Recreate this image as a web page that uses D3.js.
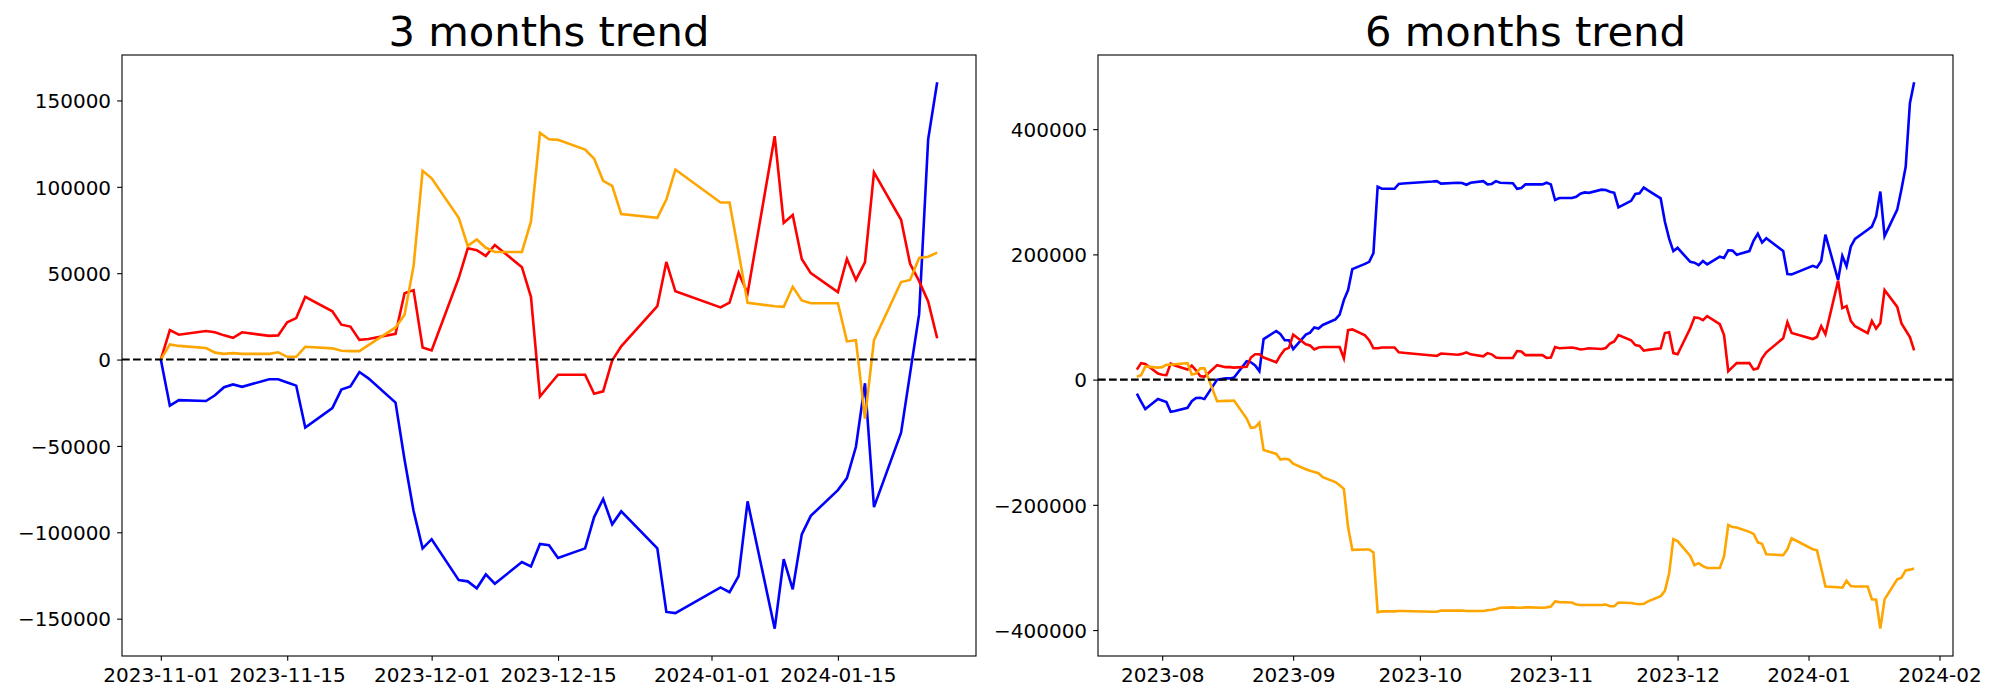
<!DOCTYPE html>
<html>
<head>
<meta charset="utf-8">
<script src="https://cdn.jsdelivr.net/npm/d3@7"></script>
<style>
  html, body { margin: 0; padding: 0; background: #fff; }
  svg { display: block; font-family: "DejaVu Sans", sans-serif; }
</style>
</head>
<body>
<svg id="chart" width="2000" height="700"></svg>
<script>
// ---------------- data ----------------
const dates3 = [
  "2023-11-01","2023-11-02","2023-11-03","2023-11-06","2023-11-07","2023-11-08","2023-11-09","2023-11-10",
  "2023-11-13","2023-11-14","2023-11-15","2023-11-16","2023-11-17","2023-11-20","2023-11-21","2023-11-22",
  "2023-11-23","2023-11-24","2023-11-27","2023-11-28","2023-11-29","2023-11-30",
  "2023-12-01","2023-12-04","2023-12-05","2023-12-06","2023-12-07","2023-12-08","2023-12-11","2023-12-12",
  "2023-12-13","2023-12-14","2023-12-15","2023-12-18","2023-12-19","2023-12-20","2023-12-21","2023-12-22",
  "2023-12-26","2023-12-27","2023-12-28",
  "2024-01-02","2024-01-03","2024-01-04","2024-01-05","2024-01-08","2024-01-09","2024-01-10","2024-01-11",
  "2024-01-12","2024-01-15","2024-01-16","2024-01-17","2024-01-18","2024-01-19","2024-01-22","2024-01-23",
  "2024-01-24","2024-01-25","2024-01-26"
];
const blue3 = [
  0,-26700,-23500,-24000,-20700,-16000,-14400,-15800,-11400,-11400,-13300,-15100,-39300,-28100,-17400,-15600,
  -7200,-10900,-24900,-58000,-87700,-109300,
  -104000,-127700,-128400,-132400,-124400,-129800,-117200,-119800,-106800,-107500,-114900,-109300,-91200,-80700,
  -95400,-87900,-109300,-146100,-146800,
  -131900,-134700,-125400,-82100,-155800,-115600,-133000,-101200,-90500,-75600,-68600,-50500,-13700,-85400,
  -42300,-8000,26300,127500,160500
];
const red3 = [
  0,17000,14400,16500,15800,14000,12600,15800,13700,14000,21600,24000,36300,27900,20200,19100,
  11400,11900,14900,38400,40200,7000,
  5300,47200,64400,63300,60000,66300,53500,36300,-21400,-15000,-8800,-8800,-19800,-18400,
  -500,7700,30900,56500,39500,
  30200,33000,50200,38400,129300,79100,83700,58200,50000,39100,58200,46100,56300,108400,
  80900,55400,45400,33700,12300
];
const orange3 = [
  0,8800,7900,6700,4000,3300,3700,3300,3300,4200,1600,1600,7400,6500,5100,4900,
  4900,8400,18600,26000,54200,109300,
  104900,82100,65800,69500,64700,62300,62300,79800,131200,127500,127200,121600,116300,103500,
  100500,84200,82100,92600,110000,
  90900,90900,62000,32800,30900,30500,42100,34200,32600,32600,10500,11200,-34200,11200,
  44900,46100,58800,59500,61900
];

const dates6 = [
  "2023-07-26","2023-07-27","2023-07-28","2023-07-31",
  "2023-08-01","2023-08-02","2023-08-03","2023-08-04","2023-08-07","2023-08-08","2023-08-09","2023-08-10",
  "2023-08-11","2023-08-14","2023-08-16","2023-08-17","2023-08-18","2023-08-21","2023-08-22","2023-08-23",
  "2023-08-24","2023-08-25","2023-08-28","2023-08-29","2023-08-30","2023-08-31",
  "2023-09-01","2023-09-04","2023-09-05","2023-09-06","2023-09-07","2023-09-08","2023-09-11","2023-09-12",
  "2023-09-13","2023-09-14","2023-09-15","2023-09-18","2023-09-19","2023-09-20","2023-09-21","2023-09-22",
  "2023-09-25","2023-09-26","2023-09-27",
  "2023-10-04","2023-10-05","2023-10-06","2023-10-10","2023-10-11","2023-10-12","2023-10-13","2023-10-16",
  "2023-10-17","2023-10-18","2023-10-19","2023-10-20","2023-10-23","2023-10-24","2023-10-25","2023-10-26",
  "2023-10-27","2023-10-30","2023-10-31",
  "2023-11-01","2023-11-02","2023-11-03","2023-11-06","2023-11-07","2023-11-08","2023-11-09","2023-11-10",
  "2023-11-13","2023-11-14","2023-11-15","2023-11-16","2023-11-17","2023-11-20","2023-11-21","2023-11-22",
  "2023-11-23","2023-11-24","2023-11-27","2023-11-28","2023-11-29","2023-11-30",
  "2023-12-01","2023-12-04","2023-12-05","2023-12-06","2023-12-07","2023-12-08","2023-12-11","2023-12-12",
  "2023-12-13","2023-12-14","2023-12-15","2023-12-18","2023-12-19","2023-12-20","2023-12-21","2023-12-22",
  "2023-12-26","2023-12-27","2023-12-28",
  "2024-01-02","2024-01-03","2024-01-04","2024-01-05","2024-01-08","2024-01-09","2024-01-10","2024-01-11",
  "2024-01-12","2024-01-15","2024-01-16","2024-01-17","2024-01-18","2024-01-19","2024-01-22","2024-01-23",
  "2024-01-24","2024-01-25","2024-01-26"
];
const blue6 = [
  -22500,-35000,-47000,-31000,
  -33500,-36000,-51300,-50000,-45000,-34600,-29500,-28900,-30800,0,1900,1900,3200,29500,27600,22500,
  13500,64800,77600,72500,62900,62900,
  48800,71900,75100,83400,81500,87300,96200,103900,127000,143100,176400,184800,188000,202100,308000,304800,
  304800,312500,313100,
  316300,317000,313100,314400,314000,311200,314400,317000,311800,312500,317000,314400,313700,304800,306000,311800,
  311800,311800,314400,
  311800,286800,290000,290000,291900,297000,299000,298300,303400,302800,300200,298300,275200,285500,296400,297700,
  306700,302200,289400,252100,225200,205300,
  210400,188000,186700,182900,189300,184100,196300,194400,206600,206000,199500,205300,222000,232900,218800,225800,
  205300,168700,168100,
  181600,179000,189300,231600,159100,197600,180900,212400,224600,239300,244400,260500,300300,229100,271400,304000,
  340000,441400,474800
];
const red6 = [
  16000,26300,25000,9600,
  7700,7100,25700,22500,16000,22500,14800,5800,4500,23100,19900,19900,19200,20500,35300,40400,
  40400,35300,27600,39100,48100,50700,
  71900,56500,54500,48100,51300,52000,52000,52000,34000,78900,80200,70600,62900,50000,50000,51300,
  51300,43600,43000,
  38500,37900,41700,39800,41100,43600,40400,37200,42300,40400,35300,34600,34600,45600,44900,39100,
  39100,39100,34600,
  35300,52000,50000,51300,50000,48100,48800,50000,48800,50500,57700,61000,71200,62900,55200,53900,
  46200,47500,50000,74400,75700,42300,
  40400,82000,99400,98500,95000,101400,88500,71200,13500,19900,26300,26300,16000,18000,34000,43600,
  66100,91700,74400,
  64800,68000,85300,72500,157800,114200,117400,93700,85300,74400,93700,81500,90500,143100,116100,89800,
  78900,68000,46800
];
const orange6 = [
  4500,7100,21200,19200,
  19900,23700,23700,24500,26300,8300,9600,18000,18000,-34600,-34000,-34000,-33400,-62200,-77000,-76300,
  -68700,-112300,-118700,-127700,-126400,-127700,
  -134100,-143100,-145600,-147600,-149500,-155900,-163600,-168700,-174500,-235500,-272000,-271400,-271400,-275900,-371500,-370200,
  -370200,-369600,-369600,
  -370800,-370800,-368900,-368900,-368900,-369600,-369600,-369600,-368300,-367600,-366400,-364400,-363800,-364400,-364400,-363800,
  -363800,-364400,-363800,
  -362500,-354200,-355400,-356100,-359300,-359900,-359900,-359900,-359900,-359300,-361900,-361900,-356100,-356700,-358000,-358700,
  -358000,-354200,-345800,-337500,-309200,-254700,
  -257900,-281700,-296400,-293200,-297800,-300900,-300900,-282300,-232300,-235500,-236100,-243200,-246500,-259900,-262400,-279100,
  -280400,-270800,-253400,
  -270800,-272700,-301000,-330400,-331600,-332300,-321400,-329800,-330400,-330400,-351000,-351600,-397800,-351000,-318900,-316400,
  -304800,-303500,-301600
];

const xTicks3 = ["2023-11-01","2023-11-15","2023-12-01","2023-12-15","2024-01-01","2024-01-15"];
const yTicks3 = [-150000,-100000,-50000,0,50000,100000,150000];
const xTicks6 = ["2023-08-01","2023-09-01","2023-10-01","2023-11-01","2023-12-01","2024-01-01","2024-02-01"];
const yTicks6 = [-400000,-200000,0,200000,400000];

const titles = ["3 months trend", "6 months trend"];
const seriesColors = ["#0000ff", "#ff0000", "#ffa500"];

// ---------------- drawing ----------------
const parse = d3.timeParse("%Y-%m-%d");
const svg = d3.select("#chart");
const TICK = 4.86, PAD = 4.86;

function panel(cfg) {
  const {left, right, top, bottom, dates, series, xTicks, xFmt, yTicks, title} = cfg;
  const g = svg.append("g");
  const ds = dates.map(parse);
  const t0 = +d3.min(ds), t1 = +d3.max(ds), tp = (t1 - t0) * 0.05;
  const x = d3.scaleTime().domain([new Date(t0 - tp), new Date(t1 + tp)]).range([left, right]);
  const all = series.flat();
  const v0 = d3.min(all), v1 = d3.max(all), vp = (v1 - v0) * 0.05;
  const y = d3.scaleLinear().domain([v0 - vp, v1 + vp]).range([bottom, top]);

  const clipId = "clip" + left;
  svg.append("defs").append("clipPath").attr("id", clipId)
    .append("rect").attr("x", left).attr("y", top).attr("width", right - left).attr("height", bottom - top);

  const plot = g.append("g").attr("clip-path", `url(#${clipId})`);
  const line = d3.line().x((d, i) => x(ds[i])).y(d => y(d));
  series.forEach((s, k) => {
    plot.append("path").datum(s).attr("d", line)
      .attr("fill", "none").attr("stroke", seriesColors[k])
      .attr("stroke-width", 2.6).attr("stroke-linejoin", "miter").attr("stroke-linecap", "butt");
  });
  plot.append("line").attr("x1", left).attr("x2", right).attr("y1", y(0)).attr("y2", y(0))
    .attr("stroke", "#000").attr("stroke-width", 2.1).attr("stroke-dasharray", "7.7,3.3");

  // axes
  const xa = g.append("g").attr("transform", `translate(0,${bottom})`)
    .call(d3.axisBottom(x).tickValues(xTicks.map(parse)).tickFormat(xFmt)
      .tickSize(TICK).tickPadding(PAD).tickSizeOuter(0));
  const ya = g.append("g").attr("transform", `translate(${left},0)`)
    .call(d3.axisLeft(y).tickValues(yTicks).tickFormat(d3.format("d"))
      .tickSize(TICK).tickPadding(PAD + 1.2).tickSizeOuter(0));
  [xa, ya].forEach(a => {
    a.select(".domain").remove();
    a.selectAll(".tick line").attr("stroke", "#000").attr("stroke-width", 1.1);
    a.selectAll(".tick text").attr("fill", "#000").style("font-size", "20px")
      .style("font-family", "'DejaVu Sans', sans-serif");
  });
  xa.selectAll(".tick text").attr("dy", "0.8em");
  ya.selectAll(".tick text").attr("dy", "0.36em");

  g.append("rect").attr("x", left).attr("y", top).attr("width", right - left).attr("height", bottom - top)
    .attr("fill", "none").attr("stroke", "#000").attr("stroke-width", 1.1);

  g.append("text").attr("x", (left + right) / 2).attr("y", 45.7)
    .attr("text-anchor", "middle").style("font-size", "41.67px").attr("fill", "#000").text(title);
}

panel({
  left: 122, right: 976, top: 55, bottom: 656,
  dates: dates3, series: [blue3, red3, orange3],
  xTicks: xTicks3, xFmt: d3.timeFormat("%Y-%m-%d"), yTicks: yTicks3, title: titles[0]
});
panel({
  left: 1098, right: 1953, top: 55, bottom: 656,
  dates: dates6, series: [blue6, red6, orange6],
  xTicks: xTicks6, xFmt: d3.timeFormat("%Y-%m"), yTicks: yTicks6, title: titles[1]
});
</script>
</body>
</html>
